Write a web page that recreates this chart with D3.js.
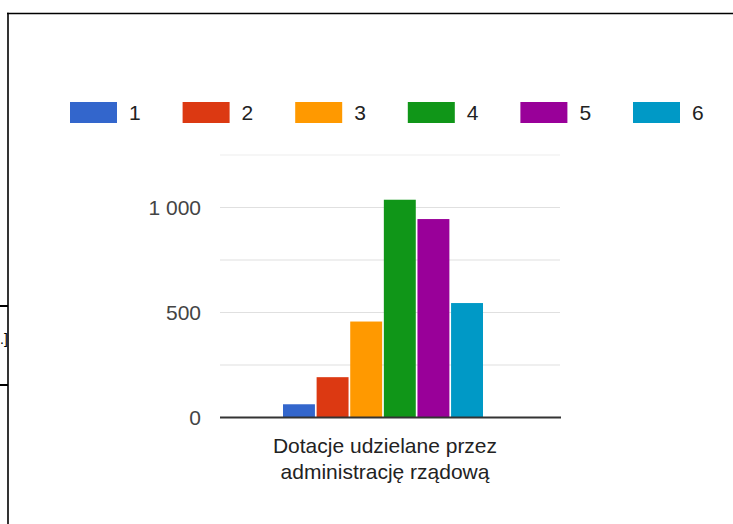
<!DOCTYPE html>
<html>
<head>
<meta charset="utf-8">
<script src="https://cdn.jsdelivr.net/npm/d3@7"></script>
<style>
  html, body { margin: 0; padding: 0; background: #fff; }
  svg { display: block; }
  text { font-family: "Liberation Sans", Arial, sans-serif; }
</style>
</head>
<body>
<svg id="chart" width="733" height="524"></svg>
<script>
const categories = ["Dotacje udzielane przez administrację rządową"];
const categoryLines = [["Dotacje udzielane przez", "administrację rządową"]];
const seriesNames = ["1", "2", "3", "4", "5", "6"];
const seriesValues = [63, 192, 457, 1037, 945, 545];
const seriesColors = ["#3366cc", "#dc3912", "#ff9900", "#109618", "#990099", "#0099c6"];
const yTicks = [0, 250, 500, 750, 1000, 1250];
const yTickLabels = ["0", "", "500", "", "1 000", ""];

const svg = d3.select("#chart");

// page frame fragments
svg.append("line").attr("x1", 7).attr("x2", 733).attr("y1", 13.5).attr("y2", 13.5)
  .attr("stroke", "#000").attr("stroke-width", 1.6);
svg.append("line").attr("x1", 8).attr("x2", 8).attr("y1", 12.7).attr("y2", 524)
  .attr("stroke", "#000").attr("stroke-width", 1.6);
svg.append("line").attr("x1", 0).attr("x2", 8).attr("y1", 306).attr("y2", 306)
  .attr("stroke", "#000").attr("stroke-width", 2);
svg.append("line").attr("x1", 0).attr("x2", 8).attr("y1", 385).attr("y2", 385)
  .attr("stroke", "#000").attr("stroke-width", 2);
svg.append("text").attr("x", 0).attr("y", 344).attr("font-size", 14).attr("fill", "#000").text(".]");

// scales
const plotLeft = 220, plotRight = 560;
const y = d3.scaleLinear().domain([0, 1250]).range([417.5, 155]);
const x0 = d3.scaleBand().domain(categories).range([plotLeft, plotRight])
  .paddingInner(0).paddingOuter(0.35).align(0.45);
const x1 = d3.scaleBand().domain(seriesNames).range([0, x0.bandwidth()]).paddingInner(0.05).paddingOuter(0);

// gridlines
svg.append("g").selectAll("line").data(yTicks.filter(d => d > 0)).join("line")
  .attr("x1", plotLeft).attr("x2", plotRight)
  .attr("y1", d => y(d)).attr("y2", d => y(d))
  .attr("stroke", d => d === 1250 ? "#eeeeee" : "#e0e0e0").attr("stroke-width", 1.2);

// y tick labels
svg.append("g").selectAll("text").data(yTicks).join("text")
  .attr("x", 201).attr("y", d => y(d)).attr("dy", "0.35em")
  .attr("text-anchor", "end").attr("font-size", 21).attr("fill", "#444")
  .text((d, i) => yTickLabels[i]);

// bars
const g = svg.append("g").attr("transform", `translate(${x0(categories[0])},0)`);
g.selectAll("rect").data(seriesValues).join("rect")
  .attr("x", (d, i) => x1(seriesNames[i]))
  .attr("width", x1.bandwidth())
  .attr("y", d => y(d))
  .attr("height", d => y(0) - y(d))
  .attr("fill", (d, i) => seriesColors[i]);

// baseline
svg.append("line").attr("x1", plotLeft).attr("x2", plotRight + 1)
  .attr("y1", y(0)).attr("y2", y(0)).attr("stroke", "#333").attr("stroke-width", 2);

// category label
const cx = x0(categories[0]) + x0.bandwidth() / 2 + 2;
const lab = svg.append("text").attr("text-anchor", "middle").attr("font-size", 21).attr("fill", "#222");
categoryLines[0].forEach((t, i) => {
  lab.append("tspan").attr("x", cx).attr("y", 453 + i * 26).text(t);
});

// legend
const legend = svg.append("g").selectAll("g").data(seriesNames).join("g")
  .attr("transform", (d, i) => `translate(${70 + i * 112.6},0)`);
legend.append("rect").attr("x", 0).attr("y", 102).attr("width", 47).attr("height", 21)
  .attr("fill", (d, i) => seriesColors[i]);
legend.append("text").attr("x", 59).attr("y", 113).attr("dy", "0.35em")
  .attr("font-size", 21).attr("fill", "#222").text(d => d);
</script>
</body>
</html>
